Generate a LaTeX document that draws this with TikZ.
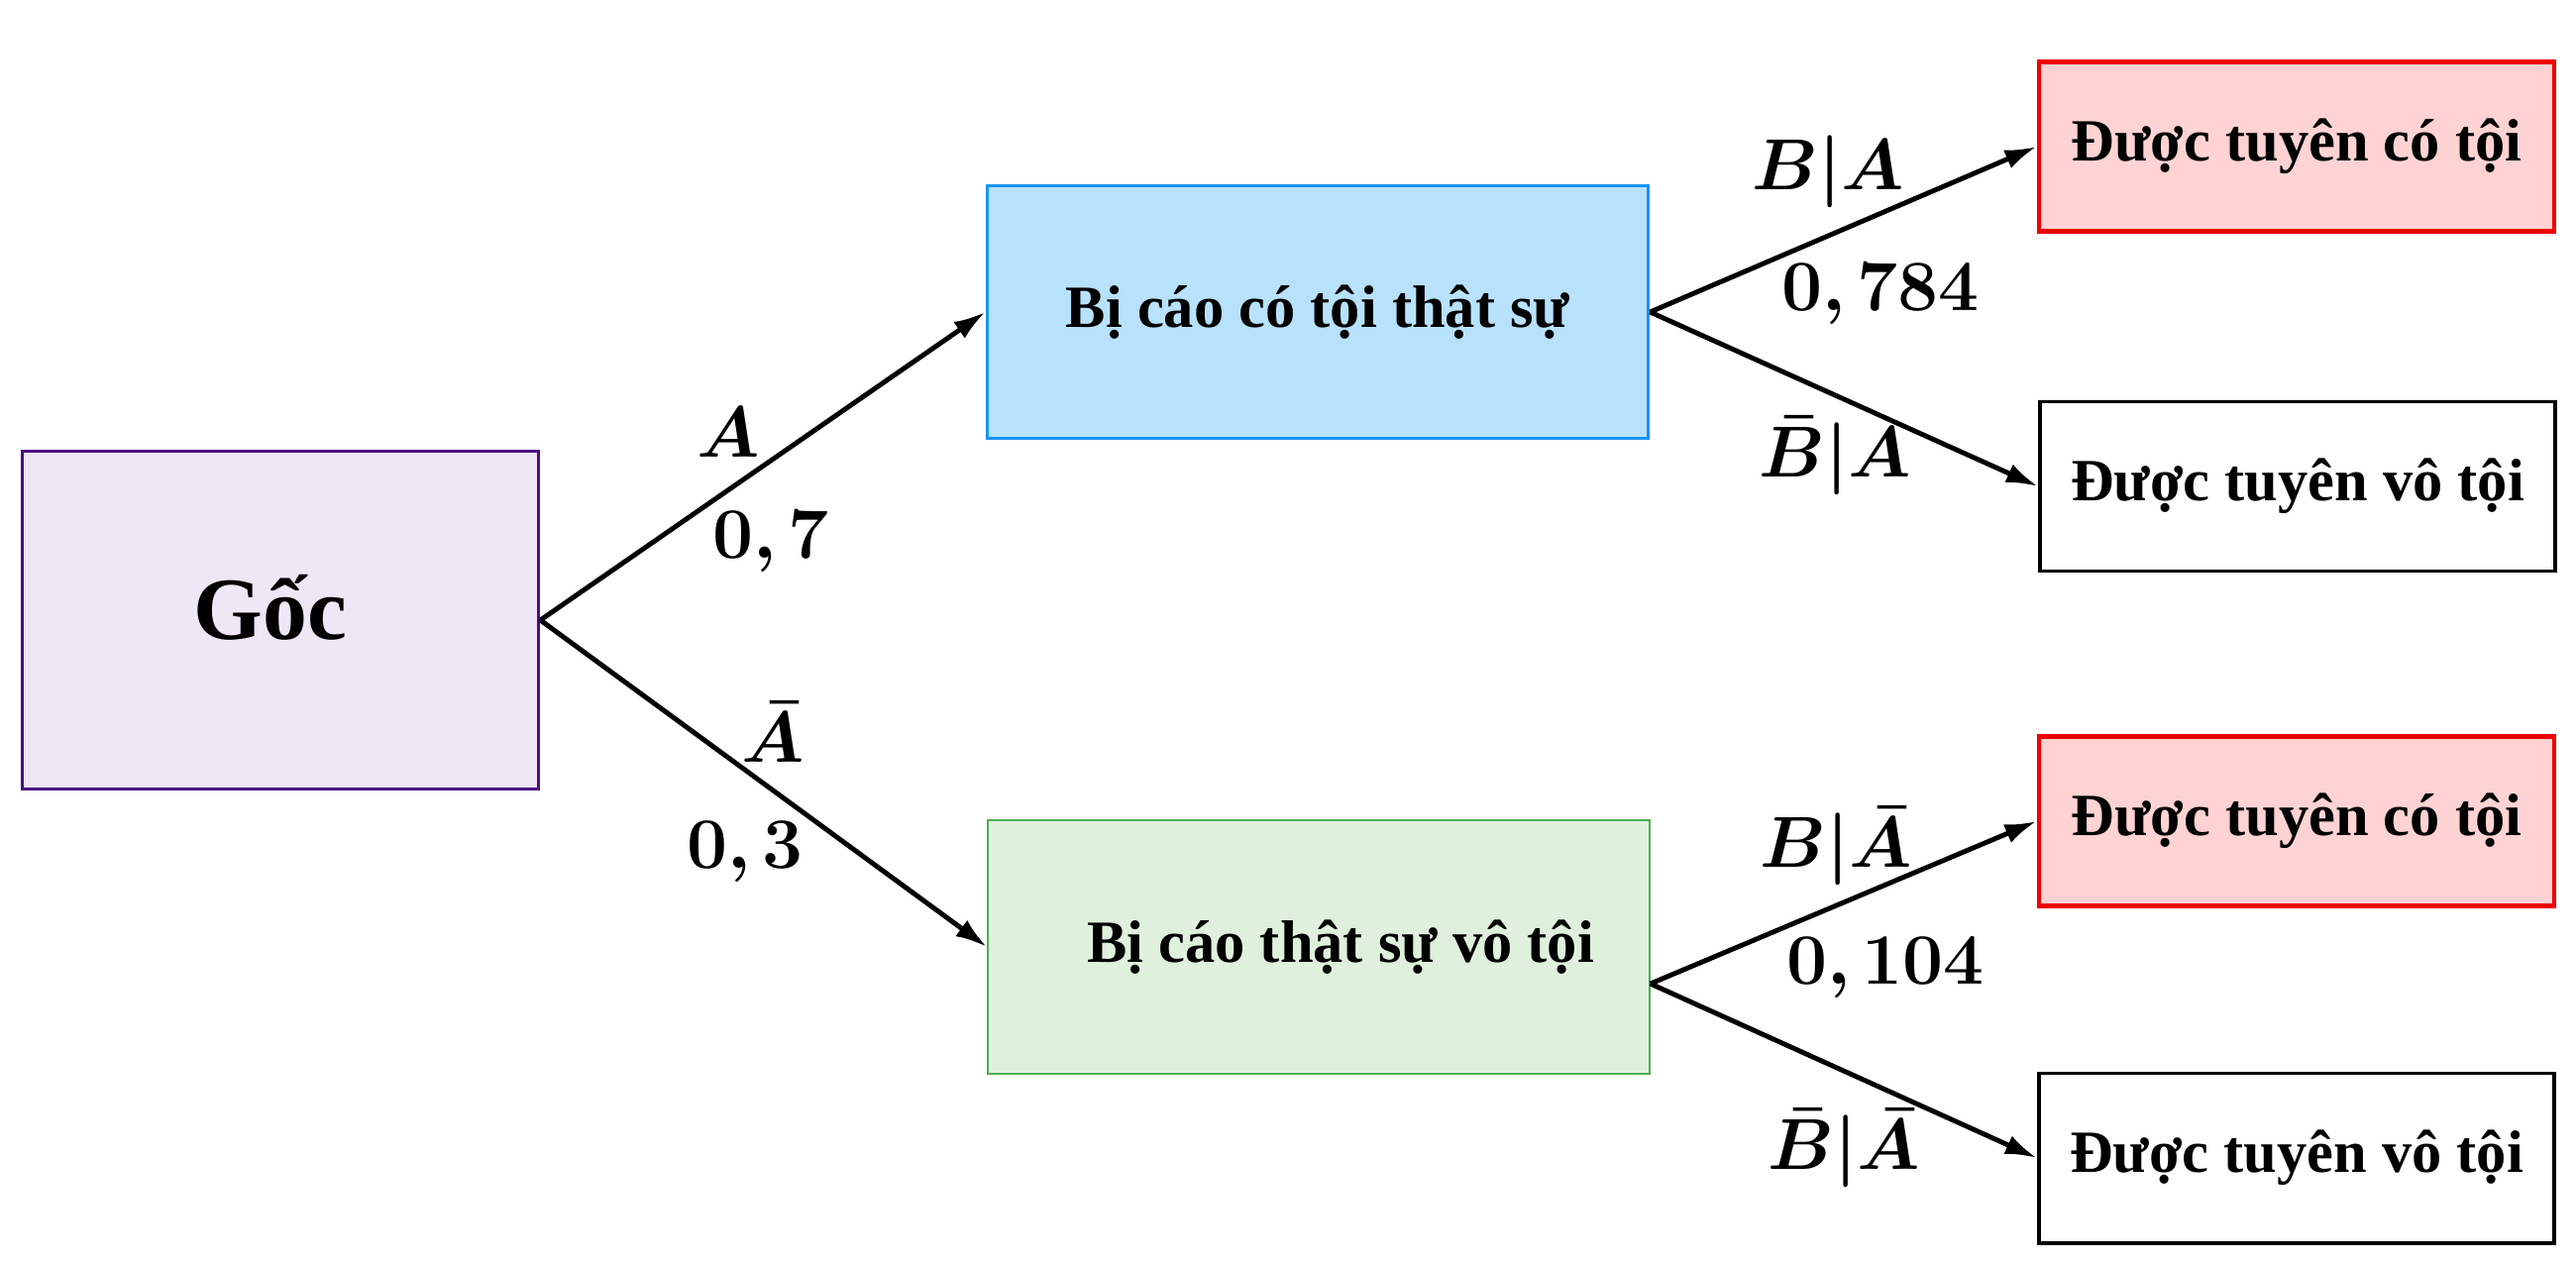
\documentclass[tikz,border=0pt]{standalone}
\usepackage[no-math]{fontspec}
\setmainfont{Liberation Serif}
\usepackage{amsmath,bm}
\usetikzlibrary{arrows.meta}
\definecolor{rootfill}{HTML}{EEE7F5}
\definecolor{rootdraw}{HTML}{4B0C82}
\definecolor{bluefill}{HTML}{B8E2FB}
\definecolor{bluedraw}{HTML}{1A94F0}
\definecolor{greenfill}{HTML}{DFF1DD}
\definecolor{greendraw}{HTML}{4CAF50}
\definecolor{redfill}{HTML}{FFD3D3}
\definecolor{reddraw}{HTML}{F00000}
\begin{document}
\begin{tikzpicture}[x=0.01cm,y=-0.01cm,
  box/.style={rectangle, inner sep=0pt, font=\fontsize{17.2}{20}\selectfont\bfseries},
  root/.style={box, draw=rootdraw, fill=rootfill, line width=1pt, minimum width=5.21cm, minimum height=3.41cm, font=\fontsize{25.5}{30}\selectfont\bfseries},
  mid/.style={box, minimum width=6.67cm, minimum height=2.55cm},
  leaf/.style={box, minimum width=5.2cm, minimum height=1.71cm},
  guilty/.style={leaf, draw=reddraw, fill=redfill, line width=1.3pt},
  innocent/.style={leaf, draw=black, fill=white, line width=1.1pt},
  conn/.style={line width=1.4pt, -{Latex[length=0.32cm,width=0.2cm]}},
  lbl/.style={inner sep=0pt, font=\fontsize{20}{24}\selectfont},
]
\useasboundingbox (0,0) rectangle (2600,1275);

\node[root] (root) at (283,626) {\raisebox{0.26cm}{Gốc}\hspace*{0.2cm}};
\node[mid, draw=bluedraw, fill=bluefill, line width=1pt] (blue) at (1330,315) {Bị cáo có tội thật sự};
\node[mid, draw=greendraw, fill=greenfill, line width=0.6pt] (green) at (1331,956) {\hspace*{0.44cm}Bị cáo thật sự vô tội};
\node[guilty] (g1) at (2318,148) {Được tuyên có tội};
\node[innocent] (i1) at (2319,491) {\raisebox{-0.08cm}{Được tuyên vô tội}};
\node[guilty] (g2) at (2318,829) {Được tuyên có tội};
\node[innocent] (i2) at (2318,1169) {\raisebox{-0.11cm}{Được tuyên vô tội}};

\coordinate (gsrc) at ([yshift=-0.37cm]green.east);

\draw[conn] (root.east) -- (blue.west);
\draw[conn] (root.east) -- (green.west);
\draw[conn] (blue.east) -- (g1.west);
\draw[conn] (blue.east) -- (i1.west);
\draw[conn] (gsrc) -- (g2.west);
\draw[conn] (gsrc) -- (i2.west);

\node[lbl] (lA) at (735,436) {$\boldsymbol{A}$};
\node[lbl] (p07) at (778,547) {$\boldsymbol{0,7}$};
\node[lbl] (lAb) at (780,739) {$\boldsymbol{\bar{A}}$};
\node[lbl] (p03) at (752,860) {$\boldsymbol{0,3}$};
\node[lbl] (lBA) at (1845,173) {$\boldsymbol{B|A}$};
\node[lbl] (p784) at (1898,297) {$\boldsymbol{0,784}$};
\node[lbl] (lBbA) at (1852,460) {$\boldsymbol{\bar{B}|A}$};
\node[lbl] (lBAb) at (1853,854) {$\boldsymbol{B|\bar{A}}$};
\node[lbl] (p104) at (1903,977) {$\boldsymbol{0,104}$};
\node[lbl] (lBbAb) at (1861,1159) {$\boldsymbol{\bar{B}|\bar{A}}$};
\end{tikzpicture}
\end{document}
